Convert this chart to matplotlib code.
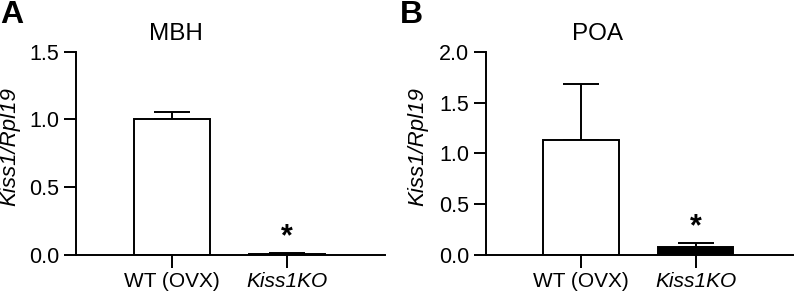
import matplotlib
matplotlib.use('Agg')
import matplotlib.pyplot as plt

plt.rcParams['font.family'] = ['Liberation Sans', 'DejaVu Sans']

groups = ['WT (OVX)', 'Kiss1KO']
mbh_mean = [1.00, 0.005]
mbh_sem = [0.057, 0.008]
poa_mean = [1.13, 0.078]
poa_sem = [0.555, 0.036]
fills = ['white', 'black']

W, H = 795, 293
fig = plt.figure(figsize=(W / 100, H / 100), dpi=100)
# axes boxes in pixels: left, right, bottom(y of zero line), top
ax_a = fig.add_axes([76 / W, (H - 255) / H, (385 - 76) / W, (255 - 51.7) / H])
ax_b = fig.add_axes([486 / W, (H - 255) / H, (793 - 486) / W, (255 - 51.7) / H])


def panel(ax, means, sems, ymax, title, title_x, label_x, xlim):
    x = range(len(groups))
    ax.bar(x, means, width=0.66, color=fills, edgecolor='black', linewidth=1.4, zorder=2)
    ax.errorbar(x, means, yerr=[[0] * len(sems), sems], fmt='none', ecolor='black',
                elinewidth=1.4, capsize=13, capthick=1.4, zorder=1)
    ax.set_xlim(*xlim)
    ax.set_ylim(0, ymax)
    ax.set_yticks([i * 0.5 for i in range(int(round(ymax / 0.5)) + 1)])
    ax.yaxis.set_major_formatter(matplotlib.ticker.FormatStrFormatter('%.1f'))
    ax.set_xticks(list(x))
    ax.set_xticklabels(groups, fontsize=15)
    ax.get_xticklabels()[1].set_style('italic')
    ax.tick_params(axis='y', labelsize=15.5, length=9, width=1.4, pad=3)
    ax.tick_params(axis='x', length=9, width=1.4, pad=3)
    for s in ['top', 'right']:
        ax.spines[s].set_visible(False)
    for s in ['left', 'bottom']:
        ax.spines[s].set_linewidth(1.4)
    ax.set_ylabel('Kiss1/Rpl19', fontsize=16, style='italic')
    ax.yaxis.set_label_coords(label_x, 0.5, transform=fig.transFigure)
    ax.text(1, means[1] + sems[1] + ymax * 0.005, '*', ha='center', va='bottom',
            fontsize=22, fontweight='bold')
    fig.text(title_x, 0.884, title, ha='center', va='center', fontsize=17.5)


panel(ax_a, mbh_mean, mbh_sem, 1.5, 'MBH', 176 / W, 20 / W, (-0.83, 1.85))
panel(ax_b, poa_mean, poa_sem, 2.0, 'POA', 597 / W, 428 / W, (-0.83, 1.85))
fig.text(0.0, 1.0, 'A', ha='left', va='top', fontsize=23, fontweight='bold')
fig.text(400 / W, 1.0, 'B', ha='left', va='top', fontsize=23, fontweight='bold')

plt.savefig('out.png', dpi=100)
